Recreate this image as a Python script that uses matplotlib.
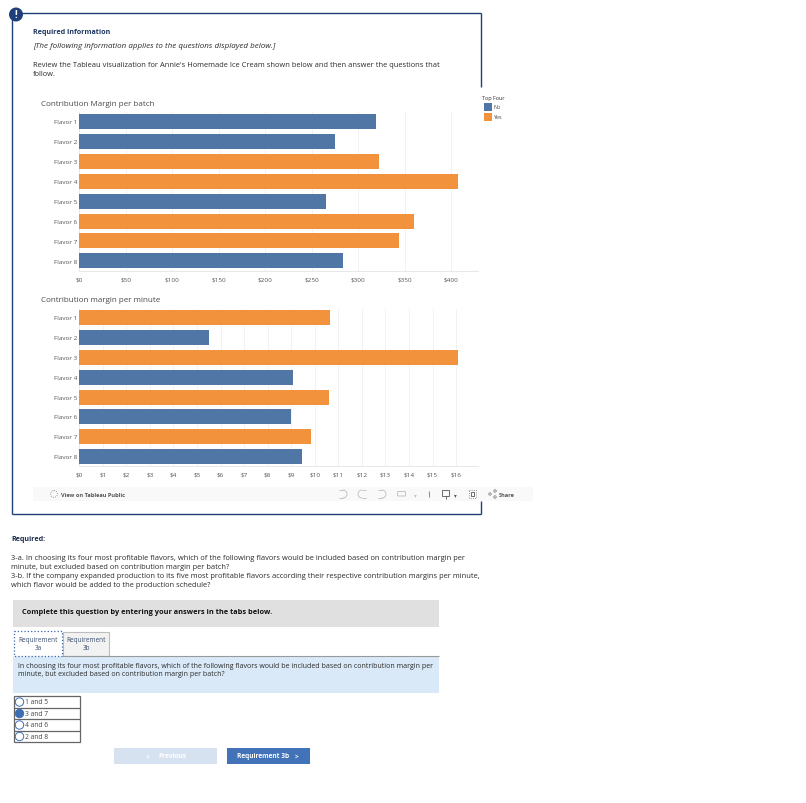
import matplotlib
matplotlib.use("Agg")
import matplotlib.pyplot as plt
from matplotlib.patches import Rectangle, Circle, Arc, FancyBboxPatch

W, H = 806, 804
flavors = ["Flavor 1", "Flavor 2", "Flavor 3", "Flavor 4", "Flavor 5", "Flavor 6", "Flavor 7", "Flavor 8"]
batch_values = [319, 275, 322, 408, 265, 360, 344, 284]
batch_top_four = ["No", "No", "Yes", "Yes", "No", "Yes", "Yes", "No"]
minute_values = [10.64, 5.5, 16.1, 9.06, 10.6, 9.0, 9.83, 9.47]
minute_top_four = ["Yes", "No", "Yes", "No", "Yes", "No", "Yes", "No"]
batch_ticks = [0, 50, 100, 150, 200, 250, 300, 350, 400]
minute_ticks = list(range(0, 17))
radio_options = ["1 and 5", "3 and 7", "4 and 6", "2 and 8"]
colors = {"No": "#5076a5", "Yes": "#f3923d"}

plt.rcParams["font.family"] = ["Open Sans", "DejaVu Sans"]
fig = plt.figure(figsize=(W / 100, H / 100), dpi=100, facecolor="white")


def px_axes(x0, y0, x1, y1, **kw):
    return fig.add_axes([x0 / W, 1 - y1 / H, (x1 - x0) / W, (y1 - y0) / H], **kw)


page = px_axes(0, 0, W, H)
page.set_xlim(0, W)
page.set_ylim(H, 0)
page.axis("off")
NAVY = "#1f3f7a"
TXT = "#2b2b2b"


def rect(x0, y0, x1, y1, fc="none", ec="none", lw=0.0, ls="-", z=1):
    page.add_patch(Rectangle((x0, y0), x1 - x0, y1 - y0, fc=fc, ec=ec, lw=lw, ls=ls, zorder=z))


def line(xs, ys, c=NAVY, lw=1.0, z=2):
    page.plot(xs, ys, color=c, lw=lw, solid_capstyle="butt", zorder=z)


def t(x, y, s, size=5.0, c=TXT, weight="normal", style="normal", ha="left", z=5):
    page.text(x, y + 1.3, s, fontsize=size, color=c, fontweight=weight, fontstyle=style, ha=ha, va="center", zorder=z)


# outer frame
line([11.5, 11.5], [14, 515])
line([11.5, 480.5], [13.5, 13.5])
line([480.5, 480.5], [13.5, 88])
line([480.5, 480.5], [502, 515])
line([11.5, 480.5], [515, 515])
page.add_patch(Circle((16, 15.5), 7, fc=NAVY, ec="none", zorder=3))
t(16, 14.2, "!", 7, "white", "bold", ha="center")

t(33, 31, "Required Information", 5.1, "#1c3560", "bold")
t(33, 45, "[The following information applies to the questions displayed below.]", 5.8, style="italic")
t(33, 64, "Review the Tableau visualization for Annie's Homemade Ice Cream shown below and then answer the questions that", 5.45)
t(33, 73, "follow.", 5.45)

t(41, 103, "Contribution Margin per batch", 5.8, "#4a4a4a")
t(41, 299, "Contribution margin per minute", 5.75, "#4a4a4a")


def chart(y0, y1, xmax, x1, values, groups, ticks, tick_fmt, centers):
    ax = px_axes(79.3, y0, x1, y1)
    ax.set_xlim(0, xmax)
    ax.set_ylim(y1, y0)
    ax.barh(centers, values, height=15, color=[colors[g] for g in groups], zorder=3)
    ax.set_yticks(centers, flavors)
    ax.set_xticks(ticks, [tick_fmt(v) for v in ticks])
    ax.tick_params(axis="both", length=0, labelsize=4.6, labelcolor="#555555")
    ax.tick_params(axis="x", pad=4)
    ax.tick_params(axis="y", pad=1.2)
    ax.grid(axis="x", color="#f2f2f2", lw=0.7, zorder=0)
    for s in ("top", "right"):
        ax.spines[s].set_visible(False)
    for s in ("left", "bottom"):
        ax.spines[s].set_color("#e8e8e8")
        ax.spines[s].set_linewidth(0.7)
    ax.patch.set_alpha(0)
    return ax


chart(113, 272, 429, 478, batch_values, batch_top_four, batch_ticks, lambda v: f"${v}",
      [122.5, 142.5, 162.5, 182.5, 202.5, 222, 241.5, 261.5])
chart(310, 467, 16.93, 478, minute_values, minute_top_four, minute_ticks, lambda v: f"${v}",
      [318.5, 338, 358, 378, 398, 417.5, 437.5, 457.5])

# legend
t(482, 97, "Top Four", 4.0, "#333333")
rect(484, 104, 492, 112, fc=colors["No"])
rect(484, 114, 492, 122, fc=colors["Yes"])
t(493, 106.5, "No", 3.9, "#444444")
t(493, 116.5, "Yes", 3.9, "#444444")

# Tableau toolbar
rect(33, 488, 533, 502, fc="#f9f9f9", z=0)
page.add_patch(Circle((54, 495), 3.4, fc="none", ec="#777777", lw=0.6, ls=":", zorder=3))
t(61, 494, "View on Tableau Public", 4.1, "#555555", "bold")
for cx, th1, th2, x0, x1 in [(343, -90, 90, 339, 343), (362, 90, 270, 362, 366), (382, -90, 90, 378, 382)]:
    page.add_patch(Arc((cx, 495), 8, 8, theta1=th1, theta2=th2, ec="#c4c4c4", lw=0.7, zorder=3))
    line([x0, x1], [491, 491], "#c4c4c4", 0.7, z=3)
    line([x0, x1], [499, 499], "#c4c4c4", 0.7, z=3)
page.add_patch(FancyBboxPatch((398, 493), 7, 3.5, boxstyle="round,pad=0.5", fc="none", ec="#c4c4c4", lw=0.7, zorder=3))
t(415, 494, "▾", 4, "#c4c4c4", ha="center")
line([428.5, 428.5], [492, 498], "#777777", 0.6)
rect(442, 491, 449, 497, ec="#555555", lw=0.6, z=3)
line([445.5, 445.5], [497, 500], "#555555", 0.6)
t(455, 494, "▾", 4, "#555555", ha="center")
rect(469, 491, 476, 499, ec="#777777", lw=0.6, ls=":", z=3)
rect(471, 493, 474, 497, ec="#555555", lw=0.6, z=3)
for cx, cy in [(490, 495), (495, 492), (495, 498)]:
    page.add_patch(Circle((cx, cy), 1.2, fc="none", ec="#666666", lw=0.5, zorder=3))
t(499, 494, "Share", 4.1, "#555555", "bold")

# question text
t(11, 538, "Required:", 5.1, "#1c2c4c", "bold")
t(11, 557.5, "3-a. In choosing its four most profitable flavors, which of the following flavors would be included based on contribution margin per", 5.42)
t(11, 566.5, "minute, but excluded based on contribution margin per batch?", 5.42)
t(11, 575.5, "3-b. If the company expanded production to its five most profitable flavors according their respective contribution margins per minute,", 5.37)
t(11, 584.5, "which flavor would be added to the production schedule?", 5.37)

rect(13, 601, 439, 628, fc="#e0e0e0")
t(22, 611.5, "Complete this question by entering your answers in the tabs below.", 5.3, "#111111", "bold")

# tabs
rect(63, 633, 109, 657, fc="#f2f2f2", ec="#bdbdbd", lw=0.8)
rect(14, 632, 62, 657, fc="white", ec="#3a66a8", lw=0.9, ls=":", z=2)
line([62, 439], [656.5, 656.5], "#9a9a9a", 0.8)
for cx, a, b in [(38, "Requirement", "3a"), (86, "Requirement", "3b")]:
    t(cx, 639.5, a, 4.7, "#3b4f6d", ha="center")
    t(cx, 647.5, b, 4.7, "#3b4f6d", ha="center")

rect(13, 657, 439, 694, fc="#d9e9f8")
t(18, 665.5, "In choosing its four most profitable flavors, which of the following flavors would be included based on contribution margin per", 5.0)
t(18, 673.5, "minute, but excluded based on contribution margin per batch?", 5.0)

# radio table
rows = [697, 709, 720, 732, 743]
rect(13.5, 697, 79.5, 743, ec="#666666", lw=0.9, z=2)
for y in rows[1:-1]:
    line([13.5, 79.5], [y, y], "#666666", 0.9)
for i, label in enumerate(radio_options):
    cy = (rows[i] + rows[i + 1]) / 2
    sel = label == "3 and 7"
    page.add_patch(Circle((19.5, cy), 4.2, fc="#3d6eb4" if sel else "white", ec="#3d6eb4", lw=0.7, zorder=3))
    t(25, cy - 1.3, label, 4.9, "#444444")

# buttons
rect(114, 749, 217, 765, fc="#d7e2f0")
rect(227, 749, 310, 765, fc="#4272b8")
t(147.5, 755.7, "<", 4.8, "white", "bold", ha="center")
t(158, 755.7, "Previous", 4.8, "white", "bold")
t(237, 755.7, "Requirement 3b", 4.7, "white", "bold")
t(297, 755.7, ">", 4.8, "white", "bold", ha="center")

fig.savefig("out.png", dpi=100, facecolor="white")
